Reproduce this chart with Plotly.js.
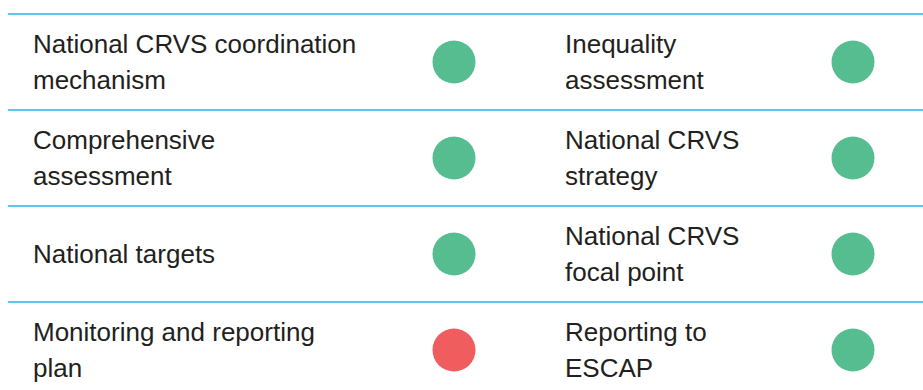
<!DOCTYPE html>
<html>
<head>
<meta charset="utf-8">
<script src="https://cdn.plot.ly/plotly-3.0.1.min.js"></script>
<style>html,body{margin:0;padding:0;background:#fff;}#chart{width:923px;height:390px;}</style>
</head>
<body>
<div id="chart"></div>
<script>
// Data
var leftLabels = ["National CRVS coordination\nmechanism", "Comprehensive\nassessment", "National targets", "Monitoring and reporting\nplan"];
var leftStatus = ["yes", "yes", "yes", "no"];
var rightLabels = ["Inequality\nassessment", "National CRVS\nstrategy", "National CRVS\nfocal point", "Reporting to\nESCAP"];
var rightStatus = ["yes", "yes", "yes", "yes"];

// Style / layout constants
var W = 923, H = 390;
var rowPitch = 96, firstCenter = 62;
var colTextX = [33, 565];
var colDotX = [454, 853];
var lineGapPx = 36, textShiftPx = 2;
var statusColor = {yes: "#55bd8f", no: "#f05d5e"};
var font = "'Liberation Sans', Arial, sans-serif";

var nRows = leftLabels.length;
var traces = [];

function addColumn(labels, status, c) {
  var tx = [], ty = [], tt = [];
  labels.forEach(function(lab, i) {
    var lines = lab.split("\n");
    lines.forEach(function(ln, j) {
      tx.push(colTextX[c]);
      ty.push(i + ((j - (lines.length - 1) / 2) * lineGapPx + textShiftPx) / rowPitch);
      tt.push(ln);
    });
  });
  traces.push({
    type: "scatter", mode: "text", x: tx, y: ty, text: tt,
    textposition: "middle right", hoverinfo: "skip",
    textfont: {family: font, size: 26, color: "#231f20"}
  });
  traces.push({
    type: "scatter", mode: "markers",
    x: status.map(function() { return colDotX[c]; }),
    y: status.map(function(s, i) { return i; }),
    marker: {size: 43, color: status.map(function(s) { return statusColor[s]; }), line: {width: 0}},
    hoverinfo: "skip"
  });
}
addColumn(leftLabels, leftStatus, 0);
addColumn(rightLabels, rightStatus, 1);

var shapes = [];
for (var i = 0; i <= nRows; i++) {
  shapes.push({type: "line", xref: "x", yref: "y", x0: 8, x1: W, y0: i - 0.5, y1: i - 0.5,
    line: {color: "#29b5e8", width: 1.5}});
}

var yTop = -firstCenter / rowPitch;
var yBot = (H - firstCenter) / rowPitch;

Plotly.newPlot("chart", traces, {
  width: W, height: H,
  margin: {l: 0, r: 0, t: 0, b: 0},
  paper_bgcolor: "#fff", plot_bgcolor: "#fff",
  showlegend: false,
  xaxis: {range: [0, W], visible: false, fixedrange: true},
  yaxis: {range: [yBot, yTop], visible: false, fixedrange: true},
  shapes: shapes
}, {displayModeBar: false, staticPlot: true});
</script>
</body>
</html>
